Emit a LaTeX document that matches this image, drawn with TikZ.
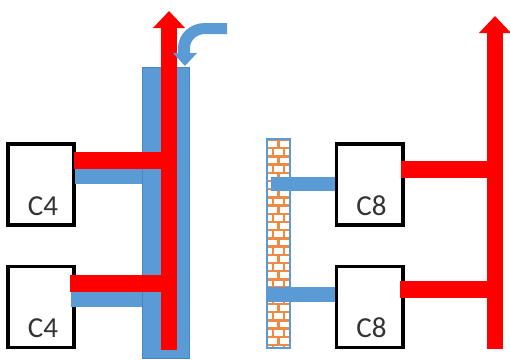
\documentclass[tikz,border=0pt]{standalone}
\usepackage{fontspec}
\setmainfont{Carlito}
\usetikzlibrary{arrows.meta, positioning}
\definecolor{heat}{HTML}{FF0000}
\definecolor{cool}{HTML}{5B9BD5}
\definecolor{coolline}{HTML}{4A86BD}
\definecolor{brick}{HTML}{ED8A45}
\tikzset{
  cbox/.style={draw=black, line width=0.07cm, fill=white, minimum width=1.33cm, minimum height=1.62cm},
  ctext/.style={font=\fontsize{16.5}{16.5}\selectfont, text=black!80, inner sep=0pt},
  heatbar/.style={draw=heat, line width=0.34cm},
  coolbar/.style={draw=cool, line width=0.29cm},
  heatup/.style={draw=heat, line width=0.31cm, -{Triangle[length=0.34cm, width=0.62cm]}},
  brickline/.style={draw=brick, line width=0.045cm},
}
\begin{document}
\begin{tikzpicture}[x=0.02cm, y=-0.02cm]
  \useasboundingbox (0,0) rectangle (510,359);
  % Boxes
  \foreach \n/\t/\x/\y in {c4a/C4/41/184.5, c4b/C4/41/307, c8a/C8/369.5/184.5, c8b/C8/369.5/307} {
    \node[cbox] (\n) at (\x,\y) {};
    \node[ctext, above=0.22cm of \n.south, xshift=0.04cm] (\n t) {\t};
  }
  % Chimney
  \node[draw=coolline, line width=0.02cm, fill=cool, minimum width=0.95cm, minimum height=5.84cm, inner sep=0pt] (stack) at (166,213) {};
  % Brick wall
  \node[fill=white, minimum width=0.46cm, minimum height=4.16cm, inner sep=0pt] (wall) at (278.5,243.5) {};
  \begin{scope}
    \clip (wall.north west) rectangle (wall.south east);
    \foreach \r in {0,...,25} {
      \pgfmathsetmacro{\ya}{140+\r*8.2}
      \pgfmathsetmacro{\yb}{148.2+\r*8.2}
      \draw[brickline] (267,\ya) -- (290,\ya);
      \ifodd\r
        \draw[brickline] (273,\ya) -- (273,\yb);
        \draw[brickline] (284,\ya) -- (284,\yb);
      \else
        \draw[brickline] (278.5,\ya) -- (278.5,\yb);
      \fi
    }
  \end{scope}
  \draw[cool, line width=0.04cm] (wall.north west) rectangle (wall.south east);
  % Cool bars
  \coordinate (a1) at (75,176.5);
  \coordinate (a2) at (71,299.5);
  \coordinate (b1) at (271,184);
  \coordinate (b2) at (268,294.5);
  \draw[coolbar] (a1) -- (a1 -| stack.west);
  \draw[coolbar] (a2) -- (a2 -| stack.west);
  \draw[coolbar] (b1) -- (b1 -| c8a.west);
  \draw[coolbar] (b2) -- (b2 -| c8b.west);
  % Hot risers
  \coordinate (l0) at (169,350);
  \coordinate (l1) at (169,11);
  \coordinate (r0) at (495,349);
  \coordinate (r1) at (495,16);
  \draw[heatup] (l0) -- (l1);
  \draw[heatup] (r0) -- (r1);
  % Hot bars
  \draw[heatbar] (74,160.5) -- (169,160.5);
  \draw[heatbar] (70,283) -- (169,283);
  \draw[heatbar] (401,169.5) -- (495,169.5);
  \draw[heatbar] (400,289.5) -- (495,289.5);
  % Inlet arrow
  \fill[cool] (227,23) -- (205,23) .. controls (190,23) and (178,34) .. (178,48) -- (178,53) -- (173,53)
    -- (185,66) -- (197,53) -- (190,53) -- (190,48) .. controls (190,40) and (197,34) .. (205,34) -- (227,34) -- cycle;
\end{tikzpicture}
\end{document}
